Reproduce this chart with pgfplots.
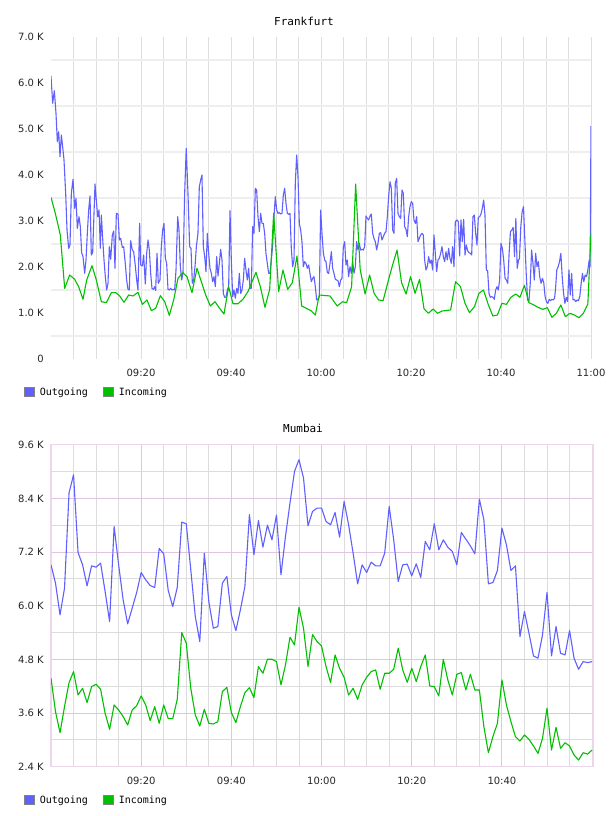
\documentclass[border=0pt]{standalone}
\usepackage{pgfplots}
\pgfplotsset{compat=1.18}
\usepackage{fontspec}
\setmainfont{DejaVu Sans}
\newfontfamily\monofont{DejaVu Sans Mono}
\definecolor{outblue}{RGB}{96,96,255}
\definecolor{ingreen}{RGB}{0,192,0}
\definecolor{hgrid}{RGB}{238,238,238}
\definecolor{vgrid}{RGB}{222,222,222}
\definecolor{pinkgrid}{RGB}{225,196,228}
\definecolor{pinkframe}{RGB}{236,214,236}
\definecolor{graygrid}{RGB}{220,220,220}
\definecolor{swatchborder}{RGB}{130,130,130}
\pgfplotsset{
  chartbase/.style={
    scale only axis, height=322pt,
    major tick length=0pt, minor tick length=0pt,
    tick style={draw=none},
    ticklabel style={font=\fontsize{10}{12}\selectfont, text=black!85},
    yticklabel style={inner sep=0pt, xshift=-7pt},
    xticklabel style={inner sep=0pt, yshift=-10pt},
    legend columns=2,
    legend style={at={(0,0)}, anchor=north west, xshift=-27pt, yshift=-28pt,
      draw=none, fill=none, inner sep=0pt, outer sep=0pt,
      font=\monofont\fontsize{10}{12}\selectfont,
      nodes={inner sep=0pt},
      /tikz/every even column/.append style={column sep=15pt},
      /tikz/every odd column/.append style={column sep=5pt}},
    legend cell align=left,
  },
  outline/.style={color=outblue, line width=1.1pt, line join=round},
  inline/.style={color=ingreen, line width=1.1pt, line join=round},
}
\begin{document}
\begin{tikzpicture}
\path[use as bounding box, fill=white] (0pt,0pt) rectangle (608pt,816pt);
\node[font=\monofont\fontsize{11}{13}\selectfont] at (304pt,795pt) {Frankfurt};
\node[font=\monofont\fontsize{11}{13}\selectfont] at (303pt,388pt) {Mumbai};
% ---------------- Frankfurt ----------------
\begin{axis}[chartbase,
  at={(51pt,457pt)}, anchor=south west, width=540pt,
  xmin=0, xmax=120, ymin=0, ymax=7000,
  axis line style={draw=none},
  xtick={20,40,60,80,100,120},
  xticklabels={09:20,09:40,10:00,10:20,10:40,11:00},
  minor xtick={5,10,15,25,30,35,45,50,55,65,70,75,85,90,95,105,110,115},
  ytick={0,1000,2000,3000,4000,5000,6000,7000},
  yticklabels={0,1.0 K,2.0 K,3.0 K,4.0 K,5.0 K,6.0 K,7.0 K},
  minor ytick={500,1500,2500,3500,4500,5500,6500},
  xmajorgrids, xminorgrids, yminorgrids,
  x grid style={draw=vgrid, line width=0.9pt},
  y grid style={draw=hgrid, line width=2pt},
]
\addlegendimage{legend image code/.code={\draw[draw=swatchborder, fill=outblue, line width=0.8pt] (0pt,-4.5pt) rectangle (10pt,5pt);}}
\addlegendentry{Outgoing}
\addlegendimage{legend image code/.code={\draw[draw=swatchborder, fill=ingreen, line width=0.8pt] (0pt,-4.5pt) rectangle (10pt,5pt);}}
\addlegendentry{Incoming}
\addplot[outline, forget plot] coordinates {
(0,6152) (0.37,5558) (0.74,5833) (1.11,5340) (1.41,4724) (1.70,4942) (2.0,4398) (2.30,4869) (2.59,4616) (2.89,4326)
(3.26,3601) (3.56,2804) (3.93,2406) (4.22,2478) (4.52,3601) (4.89,3906) (5.26,3275) (5.56,3492) (5.85,2840) (6.22,3094)
(6.52,2877) (6.81,2311) (7.11,2225) (7.48,1862) (7.78,2152) (8.07,2732) (8.37,3239) (8.67,3543) (8.96,2261) (9.26,2311)
(9.78,3804) (10.07,3456) (10.37,3094) (10.67,3239) (10.96,2406) (11.19,3130) (11.48,2623) (11.78,2152) (12.07,1790) (12.37,1500)
(12.67,1645) (12.96,2442) (13.26,2167) (13.63,2696) (13.93,2782) (14.22,1971) (14.52,3166) (14.89,3152) (15.19,2587) (15.48,2623)
(15.85,2427) (16.15,2442) (16.52,2065) (16.81,1717) (17.11,1514) (17.41,1500) (17.70,2572) (18.07,2369) (18.37,2333) (18.74,2022)
(19.04,1717) (19.33,1500) (19.70,2949) (19.93,2043) (20.30,2022) (20.59,2261) (20.96,1630) (21.26,2297) (21.56,2587) (21.85,2369)
(22.15,1862) (22.44,1536) (22.74,1514) (23.04,1572) (23.26,1485) (23.56,2297) (23.85,1645) (24.22,1717) (24.52,2442) (24.81,2804)
(25.11,2949) (25.41,2188) (25.70,2080) (26.0,1514) (26.30,1500) (26.59,1536) (26.89,1500) (27.19,1514) (27.48,1500) (27.78,1935)
(28.15,3094) (28.44,2804) (28.74,2007) (29.04,1717) (29.33,1862) (29.70,3601) (30.05,4579)
(30.44,3601) (30.81,2442) (31.11,2406) (31.41,1645) (31.70,1717) (32.0,2007) (32.30,2442) (32.66,2732) (32.96,3746) (33.26,3891)
(33.55,4000) (33.85,2442) (34.15,2225) (34.44,1898) (34.74,2732) (35.04,2297) (35.33,1971) (35.63,1862) (35.93,1681) (36.22,1790)
(36.52,1572) (36.81,2225) (37.11,1804) (37.41,2080) (37.70,2384) (38.0,2152) (38.30,1427) (38.59,1341) (38.89,1341) (39.18,1500)
(39.48,1572) (39.78,3224) (40.07,2152) (40.37,1355) (40.66,1500) (40.96,1319) (41.26,1536) (41.55,1427) (41.85,1862) (42.15,1427)
(42.44,1500) (42.74,1717) (43.03,2188) (43.33,1935) (43.63,1717) (43.92,1971) (44.22,1536) (44.52,1536) (44.81,2877) (45.11,2732)
(45.41,3710) (45.70,3674) (46.0,3094) (46.30,2768) (46.59,3166) (46.89,2949) (47.18,2949) (47.48,2732) (47.77,2297) (48.07,2080)
(48.37,1862) (48.66,1862) (48.96,2152) (49.26,2478) (49.55,3094) (49.85,3529) (50.15,3239) (50.44,3166) (50.74,3181) (51.03,3152)
(51.33,3166) (51.63,3565) (51.92,3710) (52.22,3384) (52.52,3166) (52.81,3145) (53.11,3166) (53.40,2406) (53.70,2007) (54.0,2152)
(54.29,3819) (54.59,4435) (54.89,3964) (55.18,2949) (55.48,2804) (55.77,2551) (56.07,2007) (56.37,2116) (56.66,2080) (56.96,1971)
(57.26,2043) (57.55,1862) (57.85,1681) (58.14,1754) (58.44,1790) (58.74,1572) (59.03,1283) (59.33,1297) (59.63,1355) (59.92,3239)
(60.22,2732) (60.52,2311) (60.81,2152) (61.11,2116) (61.41,1877) (61.70,1862) (62.0,2080) (62.30,2333) (62.59,1971) (62.89,1862)
(63.18,1732) (63.48,1717) (63.77,1703) (64.07,1572) (64.37,1717) (64.66,1754) (64.96,2442) (65.26,2551) (65.55,2043) (65.85,2152)
(66.14,1790) (66.44,2007) (66.74,1862) (67.03,2116) (67.33,1862) (67.63,2007) (67.92,2551) (68.22,2369) (68.51,2514) (68.81,2369)
(69.11,2384) (69.40,2369) (69.70,2442) (70.0,3109) (70.29,3058) (70.59,3022) (70.89,3109) (71.18,3152) (71.48,2732) (71.77,2623)
(72.07,2551) (72.37,2369) (72.66,2514) (72.96,2732) (73.26,2746) (73.55,2587) (73.85,2659) (74.14,2732) (74.44,2768) (74.74,3094)
(75.03,3529) (75.33,3855) (75.63,3710) (75.92,2804) (76.22,2732) (76.51,3819) (76.81,3927) (77.11,3166) (77.40,3094) (77.70,3058)
(78.0,3674) (78.29,3601) (78.59,2877) (78.89,2819) (79.18,2659) (79.48,3094) (79.77,3311) (80.07,3420) (80.37,3384) (80.66,3022)
(80.96,2949) (81.26,3094) (81.55,2551) (81.85,2623) (82.14,2696) (82.44,2732) (82.74,2696) (83.03,2152) (83.33,1935) (83.63,2007)
(83.92,2225) (84.22,2080) (84.51,2152) (84.81,1935) (85.11,2696) (85.40,2297) (85.70,1898) (86.0,2152) (86.29,2188) (86.59,2297)
(86.88,2442) (87.18,2225) (87.48,2116) (87.77,2333) (88.07,2152) (88.36,2406) (88.66,2188) (88.96,2080) (89.25,2442) (89.55,2007)
(89.85,2985) (90.22,3022) (90.52,2985) (90.81,2239) (91.11,3022) (91.40,2551) (91.70,3036) (92.0,2261) (92.29,2478) (92.59,2355)
(92.89,2311) (93.18,2297) (93.48,2261) (93.77,3094) (94.07,3130) (94.37,2732) (94.66,2478) (94.96,3080) (95.26,3094) (95.55,3152)
(95.85,3275) (96.14,3456) (96.44,3130) (96.74,1935) (97.03,1920) (97.33,1427) (97.63,1341) (97.92,1355) (98.22,1341) (98.51,1297)
(98.81,1500) (99.11,1572) (99.40,1500) (99.70,1717) (99.99,2514) (100.3,2406) (100.6,2152) (100.9,1754) (101.2,1717) (101.5,1645)
(101.8,2297) (102.1,2768) (102.4,2804) (102.7,2862) (103.0,2225) (103.3,3058) (103.6,1971) (103.9,2152) (104.1,2181) (104.4,2877)
(104.7,3203) (105.0,3311) (105.3,2587) (105.6,1862) (105.9,1283) (106.2,1246) (106.5,1645) (106.8,2369) (107.1,2080) (107.4,1717)
(107.7,2297) (108.0,2007) (108.3,2116) (108.6,1790) (108.9,1645) (109.2,1754) (109.5,1659) (109.8,1355) (110.1,1246) (110.4,1210)
(110.7,1297) (111.0,1268) (111.3,1297) (111.6,1283) (111.9,1319) (112.1,1500) (112.4,1935) (112.7,2007) (113.0,2116) (113.3,2297)
(113.6,1790) (113.9,1427) (114.2,1210) (114.5,1341) (114.8,1246) (115.1,1935) (115.4,1391) (115.7,1862) (116.0,1283) (116.3,1297)
(116.6,1246) (116.9,1283) (117.2,1268) (117.5,1355) (117.8,1630) (118.1,1862) (118.4,1681) (118.7,1826) (119.0,1790) (119.3,1935)
(119.6,2152) (119.8,2007) (120.0,5065)
};
\addplot[inline, forget plot] coordinates {
(0,3514) (0.96,3166) (2.07,2696) (3.04,1536) (4.15,1826) (5.26,1732) (6.15,1572) (7.11,1297) (7.93,1717) (9.11,2029)
(10.07,1717) (11.19,1246) (12.30,1225) (13.41,1442) (14.37,1442) (15.26,1370) (16.22,1232) (17.26,1391) (18.22,1370) (19.33,1449)
(20.30,1188) (21.33,1283) (22.30,1051) (23.26,1101) (24.30,1377) (25.26,1246) (26.30,949) (27.26,1283) (28.22,1754) (29.26,1877)
(30.22,1790) (31.33,1442) (32.44,1971) (33.41,1681) (34.37,1391) (35.41,1152) (36.44,1246) (37.48,1101) (38.44,978) (39.48,1572)
(40.44,1200) (41.55,1200) (42.66,1300) (43.77,1464) (44.59,1659) (45.55,1884) (46.52,1572) (47.55,1123) (48.59,1514) (49.48,3166)
(50.59,1464) (51.55,1935) (52.59,1514) (53.63,1659) (54.66,2239) (55.70,1152) (56.74,1101) (57.77,1051) (58.74,956) (59.6,1391)
(62.0,1370) (63.6,1152) (64.8,1246) (65.7,1225) (66.8,1572) (67.7,3804) (68.7,1950) (69.8,1413) (70.8,1826) (71.8,1427)
(72.8,1283) (73.8,1268) (74.9,1681) (75.9,2043) (76.9,2369) (77.9,1659) (78.9,1413) (79.9,1790) (80.9,1427) (81.9,1732)
(82.9,1087) (83.9,993) (84.9,1087) (85.9,993) (86.9,1043) (88.8,1065) (89.9,1681) (91.0,1572) (92.0,1210) (93.0,1007)
(94.1,1138) (95.1,1427) (96.1,1500) (97.2,1174) (98.2,935) (99.2,957) (100.2,1210) (101.2,1188) (102.2,1341) (103.3,1413)
(104.2,1341) (105.2,1601) (106.2,1225) (107.3,1174) (108.2,1123) (109.3,1080) (110.3,1116) (111.3,906) (112.3,993) (113.3,1174)
(114.3,920) (115.3,993) (116.3,957) (117.3,899) (118.3,993) (119.3,1196) (120,2746)
};
\end{axis}
% ---------------- Mumbai ----------------
\begin{axis}[chartbase,
  at={(51pt,49.3pt)}, anchor=south west, width=542pt,
  xmin=0, xmax=120.2, ymin=2400, ymax=9600,
  axis line style={draw=pinkframe, line width=1.5pt},
  xtick={20,40,60,80,100},
  xticklabels={09:20,09:40,10:00,10:20,10:40},
  minor xtick={5,10,15,25,30,35,45,50,55,65,70,75,85,90,95,105,110,115},
  ytick={2400,3600,4800,6000,7200,8400,9600},
  yticklabels={2.4 K,3.6 K,4.8 K,6.0 K,7.2 K,8.4 K,9.6 K},
  minor ytick={3000,4200,5400,6600,7800,9000},
  grid=both,
  major grid style={draw=pinkgrid, line width=0.9pt},
  minor grid style={draw=graygrid, line width=0.9pt},
]
\addlegendimage{legend image code/.code={\draw[draw=swatchborder, fill=outblue, line width=0.8pt] (0pt,-4.5pt) rectangle (10pt,5pt);}}
\addlegendentry{Outgoing}
\addlegendimage{legend image code/.code={\draw[draw=swatchborder, fill=ingreen, line width=0.8pt] (0pt,-4.5pt) rectangle (10pt,5pt);}}
\addlegendentry{Incoming}
\addplot[outline, forget plot] coordinates {
(0,6914) (1,6504) (2,5795) (3,6392) (4,8518) (5,8928) (6,7190) (7,6914) (8,6444) (9,6891)
(10,6862) (11,6951) (12,6317) (13,5646) (14,7772) (15,6914) (16,6130) (17,5593) (18,5944) (19,6295)
(20,6742) (21,6578) (22,6451) (23,6407) (24,7280) (25,7160) (26,6339) (27,5981) (28,6407) (29,7869)
(30,7832) (31,6802) (32,5757) (33,5198) (34,7175) (35,6093) (36,5496) (37,5534) (38,6504) (39,6653)
(40,5795) (41,5444) (42,5907) (43,6429) (44,8036) (45,7138) (46,7906) (47,7309) (48,7802) (49,7473)
(50,8026) (51,6690) (52,7548) (53,8294) (54,9003) (55,9264) (56,8854) (57,7787) (58,8108) (59,8182)
(60,8182) (61,7884) (62,7809) (63,8085) (64,7533) (65,8331) (66,7809) (67,7175) (68,6489) (69,6914)
(70,6742) (71,6974) (72,6891) (73,6891) (74,7175) (75,8220) (76,7473) (77,6541) (78,6914) (79,6929)
(80,6668) (81,6936) (82,6630) (83,7436) (84,7250) (85,7832) (86,7250) (87,7473) (88,7309) (89,7212)
(90,6914) (91,7638) (92,7488) (93,7339) (94,7160) (95,8384) (96,7921) (97,6489) (98,6518) (99,6787)
(100,7735) (101,7362) (102,6787) (103,6891) (104,5310) (105,5869) (106,5384) (107,4877) (108,4825) (109,5347)
(110,6295) (111,4877) (112,5534) (113,4937) (114,4899) (115,5444) (116,4825) (117,4579) (118,4750) (119,4728)
(120,4750)
};
\addplot[inline, forget plot] coordinates {
(0,4377) (1,3631) (2,3161) (3,3743) (4,4280) (5,4526) (6,4004) (7,4153) (8,3833) (9,4191)
(10,4243) (11,4131) (12,3594) (13,3236) (14,3780) (15,3668) (16,3519) (17,3333) (18,3668) (19,3765)
(20,3982) (21,3780) (22,3430) (23,3743) (24,3370) (25,3780) (26,3474) (27,3474) (28,3907) (29,5399)
(30,5161) (31,4153) (32,3556) (33,3310) (34,3683) (35,3370) (36,3355) (37,3407) (38,4079) (39,4176)
(40,3609) (41,3385) (42,3743) (43,4056) (44,4168) (45,3944) (46,4638) (47,4489) (48,4802) (49,4802)
(50,4750) (51,4228) (52,4676) (53,5295) (54,5123) (55,5966) (56,5496) (57,4638) (58,5355) (59,5198)
(60,5100) (61,4638) (62,4280) (63,4899) (64,4601) (65,4400) (66,4004) (67,4153) (68,3907) (69,4228)
(70,4400) (71,4526) (72,4564) (73,4131) (74,4489) (75,4489) (76,4579) (77,5049) (78,4564) (79,4288)
(80,4601) (81,4303) (82,4638) (83,4899) (84,4206) (85,4191) (86,3982) (87,4802) (88,4340) (89,4004)
(90,4467) (91,4504) (92,4116) (93,4467) (94,4116) (95,4116) (96,3295) (97,2713) (98,3071) (99,3370)
(100,4340) (101,3780) (102,3407) (103,3071) (104,2975) (105,3109) (106,3012) (107,2863) (108,2698) (109,3034)
(110,3706) (111,2773) (112,3280) (113,2810) (114,2937) (115,2863) (116,2661) (117,2549) (118,2713) (119,2683)
(120,2773)
};
\end{axis}
\end{tikzpicture}
\end{document}
